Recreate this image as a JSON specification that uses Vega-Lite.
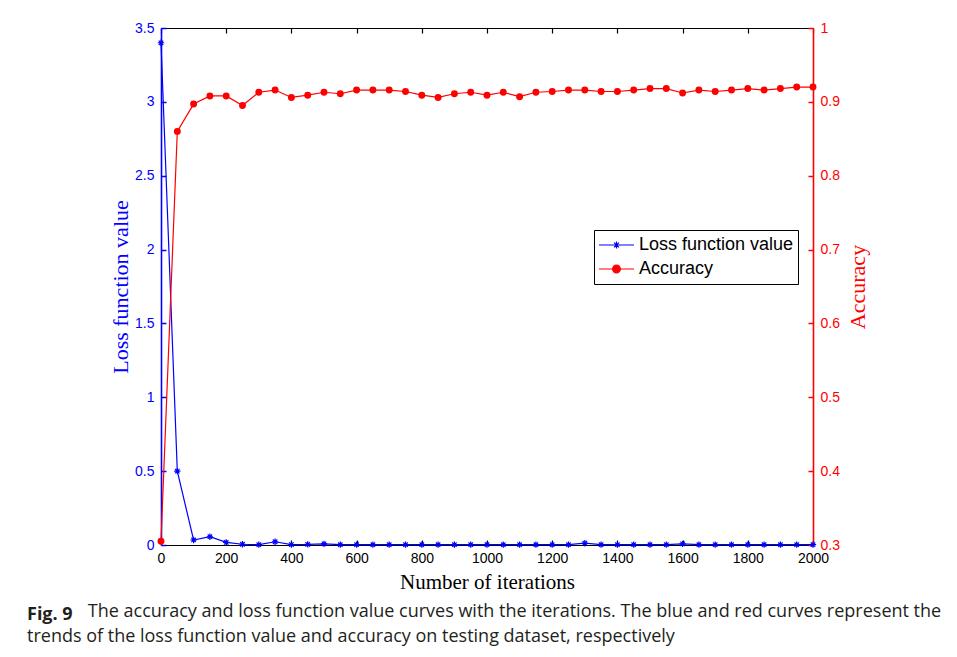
{
  "$schema": "https://vega.github.io/schema/vega-lite/v6.json",
  "width": 652,
  "height": 517,
  "autosize": {"type": "none"},
  "padding": {"left": 161, "top": 28, "right": 144, "bottom": 112},
  "background": "white",
  "config": {"view": {"stroke": null}, "axis": {"grid": false}},
  "title": {
    "text": "Fig. 9",
    "subtitle": ["\u200b\u00a0\u00a0\u00a0\u00a0\u00a0\u00a0\u00a0\u00a0\u00a0\u00a0\u00a0\u00a0\u00a0The accuracy and loss function value curves with the iterations. The blue and red curves represent the", "trends of the loss function value and accuracy on testing dataset, respectively"],
    "orient": "bottom",
    "anchor": "start",
    "frame": "group",
    "dx": -134,
    "offset": 14,
    "font": "Open Sans",
    "fontSize": 18,
    "fontWeight": "bold",
    "color": "#231f20",
    "subtitleFont": "Open Sans",
    "subtitleFontSize": 18,
    "subtitleColor": "#231f20",
    "subtitleLineHeight": 25,
    "subtitlePadding": -21
  },
  "data": {
    "values": [
      {"iter": 0, "loss": 3.4, "acc": 0.305},
      {"iter": 50, "loss": 0.5, "acc": 0.86},
      {"iter": 100, "loss": 0.034, "acc": 0.897},
      {"iter": 150, "loss": 0.056, "acc": 0.908},
      {"iter": 200, "loss": 0.018, "acc": 0.908},
      {"iter": 250, "loss": 0.005, "acc": 0.895},
      {"iter": 300, "loss": 0.002, "acc": 0.913},
      {"iter": 350, "loss": 0.022, "acc": 0.916},
      {"iter": 400, "loss": 0.003, "acc": 0.906},
      {"iter": 450, "loss": 0.004, "acc": 0.909},
      {"iter": 500, "loss": 0.008, "acc": 0.913},
      {"iter": 550, "loss": 0.002, "acc": 0.911},
      {"iter": 600, "loss": 0.002, "acc": 0.916},
      {"iter": 650, "loss": 0.002, "acc": 0.916},
      {"iter": 700, "loss": 0.002, "acc": 0.916},
      {"iter": 750, "loss": 0.002, "acc": 0.914},
      {"iter": 800, "loss": 0.002, "acc": 0.909},
      {"iter": 850, "loss": 0.002, "acc": 0.906},
      {"iter": 900, "loss": 0.002, "acc": 0.911},
      {"iter": 950, "loss": 0.002, "acc": 0.913},
      {"iter": 1000, "loss": 0.002, "acc": 0.909},
      {"iter": 1050, "loss": 0.002, "acc": 0.913},
      {"iter": 1100, "loss": 0.002, "acc": 0.907},
      {"iter": 1150, "loss": 0.002, "acc": 0.913},
      {"iter": 1200, "loss": 0.002, "acc": 0.914},
      {"iter": 1250, "loss": 0.002, "acc": 0.916},
      {"iter": 1300, "loss": 0.012, "acc": 0.916},
      {"iter": 1350, "loss": 0.002, "acc": 0.914},
      {"iter": 1400, "loss": 0.002, "acc": 0.914},
      {"iter": 1450, "loss": 0.002, "acc": 0.916},
      {"iter": 1500, "loss": 0.002, "acc": 0.918},
      {"iter": 1550, "loss": 0.002, "acc": 0.918},
      {"iter": 1600, "loss": 0.008, "acc": 0.912},
      {"iter": 1650, "loss": 0.002, "acc": 0.916},
      {"iter": 1700, "loss": 0.002, "acc": 0.914},
      {"iter": 1750, "loss": 0.002, "acc": 0.916},
      {"iter": 1800, "loss": 0.002, "acc": 0.918},
      {"iter": 1850, "loss": 0.002, "acc": 0.916},
      {"iter": 1900, "loss": 0.002, "acc": 0.918},
      {"iter": 1950, "loss": 0.002, "acc": 0.92},
      {"iter": 2000, "loss": 0.002, "acc": 0.92}
    ]
  },
  "layer": [
    {
      "encoding": {
        "x": {
          "field": "iter", "type": "quantitative",
          "scale": {"domain": [0, 2000], "nice": false},
          "axis": {
            "orient": "bottom", "values": [0, 200, 400, 600, 800, 1000, 1200, 1400, 1600, 1800, 2000], "format": "d",
            "title": "Number of iterations", "titleFont": "Liberation Serif", "titleFontSize": 21, "titleFontWeight": "normal", "titleColor": "black", "titlePadding": 6,
            "labelFont": "Liberation Sans", "labelFontSize": 14, "labelColor": "black", "labelPadding": 11, "labelFlush": false, "labelOverlap": false,
            "domainColor": "black", "domainWidth": 1.2, "tickColor": "black", "tickSize": -5, "tickWidth": 1.2
          }
        },
        "y": {
          "field": "loss", "type": "quantitative",
          "scale": {"domain": [0, 3.5], "nice": false},
          "axis": {
            "orient": "left", "values": [0, 0.5, 1, 1.5, 2, 2.5, 3, 3.5], "format": "~g",
            "title": "Loss function value", "titleFont": "Liberation Serif", "titleFontSize": 22, "titleFontWeight": "normal", "titleColor": "#0000ff", "titlePadding": 2,
            "labelFont": "Liberation Sans", "labelFontSize": 14, "labelColor": "#0000ff", "labelPadding": 12, "labelFlush": false, "labelOverlap": false,
            "domainColor": "#0000ff", "domainWidth": 1.6, "tickColor": "#0000ff", "tickSize": -5, "tickWidth": 1.5
          }
        }
      },
      "layer": [
        {
          "mark": {"type": "line", "strokeWidth": 1.2, "color": "#0000ff"},
          "encoding": {
            "color": {
              "datum": "Loss function value",
              "scale": {"domain": ["Loss function value", "Accuracy"], "range": ["#0000ff", "#ff0000"]},
              "legend": {
                "title": null, "orient": "none", "legendX": 433, "legendY": 202,
                "direction": "vertical",
                "strokeColor": "black", "fillColor": "white", "padding": 4,
                "labelFont": "Liberation Sans", "labelFontSize": 18, "labelColor": "black", "labelOffset": 4,
                "symbolSize": 1225, "symbolStrokeWidth": 1.2, "clipHeight": 22, "rowPadding": 2,
                "encode": {
                  "symbols": {
                    "update": {
                      "shape": {"signal": "datum.value == 'Accuracy' ? 'M-1,0L1,0M-0.22,0A0.22,0.22,0,1,0,0.22,0A0.22,0.22,0,1,0,-0.22,0Z' : 'M-1,0L1,0M-0.2,0L0.2,0M0,-0.2L0,0.2M-0.14,-0.14L0.14,0.14M-0.14,0.14L0.14,-0.14'"},
                      "fill": {"signal": "datum.value == 'Accuracy' ? '#ff0000' : 'transparent'"},
                      "stroke": {"signal": "datum.value == 'Accuracy' ? '#ff0000' : '#0000ff'"},
                      "strokeWidth": {"value": 1.2},
                      "opacity": {"value": 1}
                    }
                  }
                }
              }
            }
          }
        },
        {
          "mark": {"type": "point", "shape": "M-1,0L1,0M0,-1L0,1M-0.7,-0.7L0.7,0.7M-0.7,0.7L0.7,-0.7", "filled": false, "stroke": "#0000ff", "strokeWidth": 1.2, "size": 40, "opacity": 1}
        }
      ]
    },
    {
      "encoding": {
        "x": {
          "field": "iter", "type": "quantitative",
          "axis": {
            "orient": "top", "values": [0, 200, 400, 600, 800, 1000, 1200, 1400, 1600, 1800, 2000],
            "title": null, "labels": false,
            "domainColor": "black", "domainWidth": 1.2, "tickColor": "black", "tickSize": -5, "tickWidth": 1.2
          }
        },
        "y": {
          "field": "acc", "type": "quantitative",
          "scale": {"domain": [0.3, 1], "nice": false, "zero": false},
          "axis": {
            "orient": "right", "values": [0.3, 0.4, 0.5, 0.6, 0.7, 0.8, 0.9, 1], "format": "~g",
            "title": "Accuracy", "titleFont": "Liberation Serif", "titleFontSize": 22, "titleFontWeight": "normal", "titleColor": "#ff0000", "titleAngle": 270, "titlePadding": 30,
            "labelFont": "Liberation Sans", "labelFontSize": 14, "labelColor": "#ff0000", "labelPadding": 12, "labelFlush": false, "labelOverlap": false,
            "domainColor": "#ff0000", "domainWidth": 1.6, "tickColor": "#ff0000", "tickSize": -5, "tickWidth": 1.5
          }
        }
      },
      "layer": [
        {
          "mark": {"type": "line", "strokeWidth": 1.2, "color": "#ff0000"}
        },
        {
          "mark": {"type": "point", "shape": "circle", "filled": true, "color": "#ff0000", "size": 48, "opacity": 1}
        }
      ]
    }
  ],
  "resolve": {"scale": {"y": "independent"}, "axis": {"x": "independent"}}
}
